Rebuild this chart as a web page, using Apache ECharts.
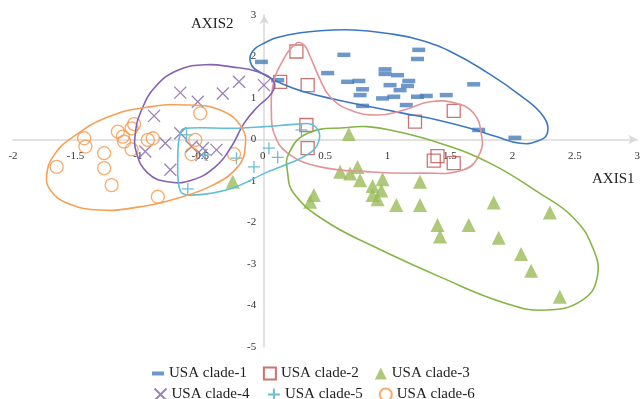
<!DOCTYPE html>
<html>
<head>
<meta charset="utf-8">
<script src="https://cdn.jsdelivr.net/npm/echarts@6/dist/echarts.min.js"></script>
<style>html,body{margin:0;padding:0;background:#fff;}#c{width:643px;height:399px;}</style>
</head>
<body>
<div id="c"></div>
<script>
const seriesNames = ['USA clade-1','USA clade-2','USA clade-3','USA clade-4','USA clade-5','USA clade-6'];
const xTicks = { min: -2, max: 3, interval: 0.5 };
const yTicks = { min: -5, max: 3, interval: 1 };

const clade1 = [[-0.01,1.87],[0.65,2.04],[0.52,1.60],[0.12,1.43],[0.68,1.39],[0.77,1.41],[0.80,1.21],[0.78,1.07],[0.80,0.81],[1.25,2.16],[1.24,1.94],[0.98,1.69],[0.98,1.58],[1.08,1.55],[1.17,1.41],[1.02,1.31],[1.16,1.29],[1.10,1.19],[1.05,1.03],[0.96,0.99],[1.24,1.03],[1.31,1.05],[1.47,1.07],[1.69,1.33],[1.15,0.83],[1.73,0.23],[2.02,0.04]];
const clade2 = [[0.27,2.12],[0.14,1.39],[0.36,1.31],[0.35,0.35],[0.36,-0.21],[1.53,0.69],[1.22,0.43],[1.40,-0.40],[1.37,-0.51],[1.53,-0.57]];
const clade3 = [[0.69,0.13],[0.76,-0.66],[0.62,-0.78],[0.70,-0.82],[0.78,-0.98],[0.96,-0.96],[0.88,-1.12],[0.95,-1.23],[0.88,-1.34],[0.92,-1.44],[1.26,-1.02],[0.41,-1.34],[0.38,-1.50],[1.07,-1.58],[1.26,-1.58],[1.85,-1.52],[2.30,-1.76],[1.40,-2.06],[1.42,-2.34],[1.65,-2.06],[1.89,-2.37],[2.07,-2.76],[2.15,-3.16],[2.38,-3.79],[-0.24,-1.02]];
const clade4 = [[-0.19,1.39],[0.01,1.31],[-0.66,1.13],[-0.52,0.91],[-0.32,1.11],[-0.87,0.57],[-0.66,0.15],[-0.78,-0.09],[-0.94,-0.29],[-0.57,-0.17],[-0.48,-0.21],[-0.37,-0.25],[-0.74,-0.73],[-0.49,-0.37]];
const clade5 = [[-0.61,0.11],[-0.46,-0.37],[-0.21,-0.45],[-0.07,-0.66],[0.05,-0.21],[0.12,-0.43],[0.31,0.23],[-0.60,-1.19]];
const clade6 = [[-1.65,-0.66],[-1.43,0.03],[-1.42,-0.17],[-1.27,-0.33],[-1.27,-0.69],[-1.21,-1.10],[-1.16,0.19],[-1.12,0.07],[-1.11,-0.05],[-1.05,0.27],[-1.03,0.37],[-1.05,-0.24],[-0.92,-0.01],[-0.88,0.03],[-0.50,0.63],[-0.54,-0.01],[-0.57,-0.35],[-0.23,-0.35],[-0.84,-1.38]];

// hand-drawn cluster outlines (data coordinates)
const outline1 = [[-0.09,2.08],[0.01,2.32],[0.20,2.52],[0.46,2.62],[0.73,2.64],[0.99,2.56],[1.26,2.40],[1.53,2.08],[1.79,1.63],[2.06,1.07],[2.25,0.55],[2.28,0.15],[2.19,-0.05],[2.06,-0.09],[1.87,0.07],[1.66,0.27],[1.40,0.47],[1.13,0.63],[0.86,0.79],[0.60,0.95],[0.33,1.15],[0.15,1.35],[-0.01,1.60],[-0.09,1.80]];
const outline2 = [[0.27,2.32],[0.15,1.84],[0.08,1.27],[0.07,0.63],[0.09,0.15],[0.20,-0.33],[0.46,-0.66],[0.86,-0.78],[1.26,-0.81],[1.61,-0.73],[1.74,-0.33],[1.75,0.15],[1.69,0.63],[1.55,0.87],[1.34,0.91],[1.13,0.71],[0.92,0.59],[0.70,0.71],[0.54,1.03],[0.45,1.51],[0.38,2.00],[0.33,2.28]];
const outline3 = [[0.68,0.29],[0.36,0.15],[0.21,-0.33],[0.20,-0.81],[0.25,-1.30],[0.49,-1.94],[0.89,-2.58],[1.42,-3.31],[1.95,-3.95],[2.27,-4.11],[2.56,-3.87],[2.68,-3.31],[2.64,-2.58],[2.48,-1.86],[2.22,-1.30],[1.82,-0.57],[1.42,-0.09],[1.02,0.23],[0.84,0.31]];
const outline4 = [[-0.46,1.80],[-0.25,1.75],[-0.04,1.63],[0.09,1.39],[0.07,1.11],[-0.04,0.79],[-0.15,0.39],[-0.25,-0.17],[-0.38,-0.66],[-0.57,-0.98],[-0.76,-1.02],[-0.92,-0.81],[-1.01,-0.33],[-1.02,0.15],[-0.97,0.71],[-0.86,1.27],[-0.68,1.67]];
const outline5 = [[-0.62,0.27],[-0.25,0.27],[0.01,0.31],[0.28,0.37],[0.39,0.37],[0.45,0.19],[0.45,-0.04],[0.41,-0.25],[0.28,-0.49],[0.04,-0.78],[-0.25,-1.18],[-0.56,-1.34],[-0.66,-1.24],[-0.68,-0.41],[-0.66,0.15]];
const outline6 = [[-1.73,-0.86],[-1.67,-0.37],[-1.51,0.08],[-1.24,0.54],[-0.92,0.78],[-0.60,0.83],[-0.34,0.71],[-0.17,0.30],[-0.14,-0.18],[-0.20,-0.66],[-0.40,-1.10],[-0.68,-1.41],[-1.00,-1.63],[-1.31,-1.70],[-1.57,-1.53],[-1.70,-1.22]];

const serif = '"Liberation Serif","Times New Roman",serif';
const C = { blue:'#4A7EBB', red:'#C0504D', green:'#9BBB59', purple:'#8064A2', cyan:'#4BACC6', orange:'#F79646' };

function outlineSeries(pts, color, smooth) {
  return {
    type: 'custom', silent: true, z: 5,
    data: [[0, 0]],
    renderItem: function (params, api) {
      return {
        type: 'polygon',
        shape: { points: pts.map(function (p) { return api.coord(p); }), smooth: smooth },
        style: { fill: 'none', stroke: color, lineWidth: 1.6 }
      };
    }
  };
}

const W = 643, H = 399;
const grid = { left: 13, right: 2, top: 15, bottom: 52 };
const gridW = W - grid.left - grid.right, gridH = H - grid.top - grid.bottom;
// move each axis (line + labels) onto the other axis's zero
const yAxisOffset = -gridW * (0 - xTicks.min) / (xTicks.max - xTicks.min);
const xAxisOffset = -gridH * (0 - yTicks.min) / (yTicks.max - yTicks.min);

const chart = echarts.init(document.getElementById('c'), null, { renderer: 'canvas' });
const legendCommon = {
  left: 147, itemGap: 16, itemWidth: 12, itemHeight: 12,
  textStyle: { fontFamily: serif, fontSize: 15, color: '#222' },
  selectedMode: false
};
chart.setOption({
  animation: false,
  grid: Object.assign({ containLabel: false }, grid),
  xAxis: {
    type: 'value', min: xTicks.min, max: xTicks.max, interval: xTicks.interval,
    position: 'bottom', offset: xAxisOffset,
    axisLine: { onZero: false, lineStyle: { color: '#d9d9d9', width: 1.5 }, symbol: ['none', 'arrow'], symbolSize: [7, 9] },
    axisTick: { show: false }, splitLine: { show: false },
    axisLabel: { fontFamily: serif, fontSize: 11, color: '#333', margin: 11 }
  },
  yAxis: {
    type: 'value', min: yTicks.min, max: yTicks.max, interval: yTicks.interval,
    position: 'left', offset: yAxisOffset,
    axisLine: { onZero: false, lineStyle: { color: '#d9d9d9', width: 1.5 }, symbol: ['none', 'arrow'], symbolSize: [7, 9] },
    axisTick: { show: false }, splitLine: { show: false },
    axisLabel: { fontFamily: serif, fontSize: 11, color: '#333', margin: 8 }
  },
  legend: [
    Object.assign({ top: 361, data: [
      { name: seriesNames[0], icon: 'path://M0,0h12v4h-12z' },
      { name: seriesNames[1] },
      { name: seriesNames[2] }
    ] }, legendCommon),
    Object.assign({ top: 381, data: [
      { name: seriesNames[3] }, { name: seriesNames[4] }, { name: seriesNames[5] }
    ] }, legendCommon)
  ],
  graphic: [
    { type: 'text', left: 191, top: 17, style: { text: 'AXIS2', font: '15px ' + serif, fill: '#222' } },
    { type: 'text', left: 592, top: 172, style: { text: 'AXIS1', font: '15px ' + serif, fill: '#222' } }
  ],
  series: [
    { name: seriesNames[0], type: 'scatter', data: clade1, symbol: 'rect', symbolSize: [13, 4.5], itemStyle: { color: C.blue } },
    { name: seriesNames[1], type: 'scatter', data: clade2, symbol: 'rect', symbolSize: 13, itemStyle: { color: 'rgba(255,255,255,0)', borderColor: C.red, borderWidth: 1.3 } },
    { name: seriesNames[2], type: 'scatter', data: clade3, symbol: 'triangle', symbolSize: 14, itemStyle: { color: C.green } },
    { name: seriesNames[3], type: 'scatter', data: clade4, symbol: 'path://M0,0L10,10M10,0L0,10', symbolSize: 12, itemStyle: { color: 'none', borderColor: C.purple, borderWidth: 1.3 } },
    { name: seriesNames[4], type: 'scatter', data: clade5, symbol: 'path://M5,0L5,10M0,5L10,5', symbolSize: 12, itemStyle: { color: 'none', borderColor: C.cyan, borderWidth: 1.3 } },
    { name: seriesNames[5], type: 'scatter', data: clade6, symbol: 'circle', symbolSize: 13, itemStyle: { color: 'rgba(255,255,255,0)', borderColor: C.orange, borderWidth: 1.3 } },
    outlineSeries(outline1, '#3C78C0', 0.45),
    outlineSeries(outline2, '#E39499', 0.45),
    outlineSeries(outline3, '#86B545', 0.45),
    outlineSeries(outline4, '#8461B5', 0.45),
    outlineSeries(outline5, '#5FBFD9', 0.35),
    outlineSeries(outline6, '#F7A055', 0.45)
  ]
});
</script>
</body>
</html>
